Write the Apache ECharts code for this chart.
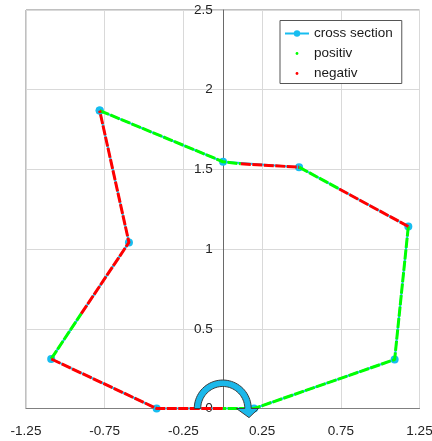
<!DOCTYPE html>
<html>
<head>
<meta charset="utf-8">
<script src="https://cdn.jsdelivr.net/npm/echarts@6/dist/echarts.min.js"></script>
<style>
html,body{margin:0;padding:0;background:#fff;}
#chart{width:432px;height:441px;}
</style>
</head>
<body>
<div id="chart"></div>
<script>
// ---- data ----
var SERIES_NAMES = ['cross section', 'positiv', 'negativ'];
// cross-section vertices (closed polygon)
var sectionX = [-0.782, 0.002, 0.485, 1.179, 1.092, 0.199, -0.42, -1.09, -0.596, -0.782];
var sectionY = [1.869, 1.548, 1.514, 1.142, 0.307, 0.0, 0.0, 0.311, 1.042, 1.869];
// positive runs (each run is a polyline)
var posRunsX = [[-0.782, 0.002, 0.115], [0.485, 0.74], [1.179, 1.092, 0.199, 0.0], [-1.09, -0.899]];
var posRunsY = [[1.869, 1.548, 1.535], [1.514, 1.377], [1.142, 0.307, 0.0, 0.0], [0.311, 0.595]];
// negative runs
var negRunsX = [[0.115, 0.485], [0.74, 1.179], [0.0, -0.42, -1.09], [-0.899, -0.596, -0.782]];
var negRunsY = [[1.535, 1.514], [1.377, 1.142], [0.0, 0.0, 0.311], [0.595, 1.042, 1.869]];
// rotation arrow centre
var arrowCenter = [0, 0];
var xTicks = [-1.25, -0.75, -0.25, 0.25, 0.75, 1.25];
var yTicks = [0, 0.5, 1, 1.5, 2, 2.5];

function zip(xs, ys) { return xs.map(function (x, i) { return [x, ys[i]]; }); }
function runs(rx, ry) {
  var out = [];
  rx.forEach(function (xs, k) {
    if (k > 0) out.push(['-', '-']);
    out = out.concat(zip(xs, ry[k]));
  });
  return out;
}

var FONT = 'Liberation Sans, Arial, sans-serif';
var CYAN = '#17bdf0';
var dotIcon = 'path://M0,0M24,8M10.6,4a1.4,1.4 0 1,0 2.8,0a1.4,1.4 0 1,0 -2.8,0Z';
var GRID_L = 26, GRID_R = 12.5;
var plotW = 432 - GRID_L - GRID_R;
// y axis sits at x = 0 (middle of the x range)
var yAxisOffset = -plotW * (0 - xTicks[0]) / (xTicks[xTicks.length - 1] - xTicks[0]);

var chart = echarts.init(document.getElementById('chart'), null, {renderer: 'canvas'});
chart.setOption({
  animation: false,
  grid: {left: GRID_L, right: GRID_R, top: 10, bottom: 32.5, show: true, borderColor: '#808080', borderWidth: 1,
    backgroundColor: 'transparent', containLabel: false, outerBoundsMode: 'none'},
  xAxis: {
    type: 'value', min: xTicks[0], max: xTicks[xTicks.length - 1], interval: 0.5,
    axisLine: {show: true, onZero: false, lineStyle: {color: '#808080'}},
    axisTick: {show: false},
    splitLine: {show: true, lineStyle: {color: '#d9d9d9', width: 1}},
    axisLabel: {margin: 16, fontSize: 13.5, fontFamily: FONT, color: '#222',
      formatter: function (v) { return String(Math.round(v * 100) / 100); }}
  },
  yAxis: {
    type: 'value', min: yTicks[0], max: yTicks[yTicks.length - 1], interval: 0.5,
    position: 'left', offset: yAxisOffset,
    axisLine: {show: true, onZero: false, lineStyle: {color: '#6a6a6a'}},
    axisTick: {show: false},
    splitLine: {show: true, lineStyle: {color: '#d9d9d9', width: 1}},
    axisLabel: {margin: 10, fontSize: 13.5, fontFamily: FONT, color: '#222'}
  },
  legend: {
    orient: 'vertical', left: 280, top: 20.5,
    backgroundColor: '#fff', borderColor: '#555', borderWidth: 1, borderRadius: 0,
    padding: [6, 9, 3, 4], itemGap: 6, itemWidth: 24, itemHeight: 8,
    textStyle: {fontSize: 13.5, fontFamily: FONT, color: '#1a1a1a'},
    data: [
      {name: SERIES_NAMES[0]},
      {name: SERIES_NAMES[1], icon: dotIcon, itemStyle: {borderWidth: 0}},
      {name: SERIES_NAMES[2], icon: dotIcon, itemStyle: {borderWidth: 0}}
    ]
  },
  series: [
    {
      name: SERIES_NAMES[0], type: 'line', data: zip(sectionX, sectionY),
      symbol: 'circle', symbolSize: 8, showSymbol: true,
      lineStyle: {color: CYAN, width: 2}, itemStyle: {color: CYAN, borderWidth: 0},
      z: 2, silent: true
    },
    {
      name: SERIES_NAMES[1], type: 'line', data: runs(posRunsX, posRunsY), connectNulls: false,
      symbol: 'none', lineStyle: {color: '#00ff00', width: 3, type: [10, 1.5]}, itemStyle: {color: '#00ff00'},
      z: 3, silent: true
    },
    {
      name: SERIES_NAMES[2], type: 'line', data: runs(negRunsX, negRunsY), connectNulls: false,
      symbol: 'none', lineStyle: {color: '#ff0000', width: 3, type: [10, 1.5]}, itemStyle: {color: '#ff0000'},
      z: 3, silent: true
    },
    {
      type: 'custom', data: [arrowCenter], clip: false, z: 5, silent: true,
      renderItem: function (params, api) {
        var c = api.coord([api.value(0), api.value(1)]);
        var rOut = api.size([0.181, 0])[0];
        var rIn = api.size([0.14, 0])[0];
        var pts = [], n = 40, a, i;
        for (i = 0; i <= n; i++) { a = Math.PI * (1 - i / n); pts.push([c[0] + rOut * Math.cos(a), c[1] - rOut * Math.sin(a)]); }
        var head = rOut * 0.26;
        pts.push([c[0] + rOut + head, c[1]]);
        pts.push([c[0] + (rOut + rIn) / 2 + 1, c[1] + rOut * 0.32]);
        pts.push([c[0] + rIn - head - 1, c[1]]);
        for (i = 0; i <= n; i++) { a = Math.PI * (i / n); pts.push([c[0] + rIn * Math.cos(a), c[1] - rIn * Math.sin(a)]); }
        return {type: 'polygon', shape: {points: pts}, style: {fill: '#1bb8ea', stroke: '#3c3c3c', lineWidth: 1}};
      }
    }
  ]
});
</script>
</body>
</html>
